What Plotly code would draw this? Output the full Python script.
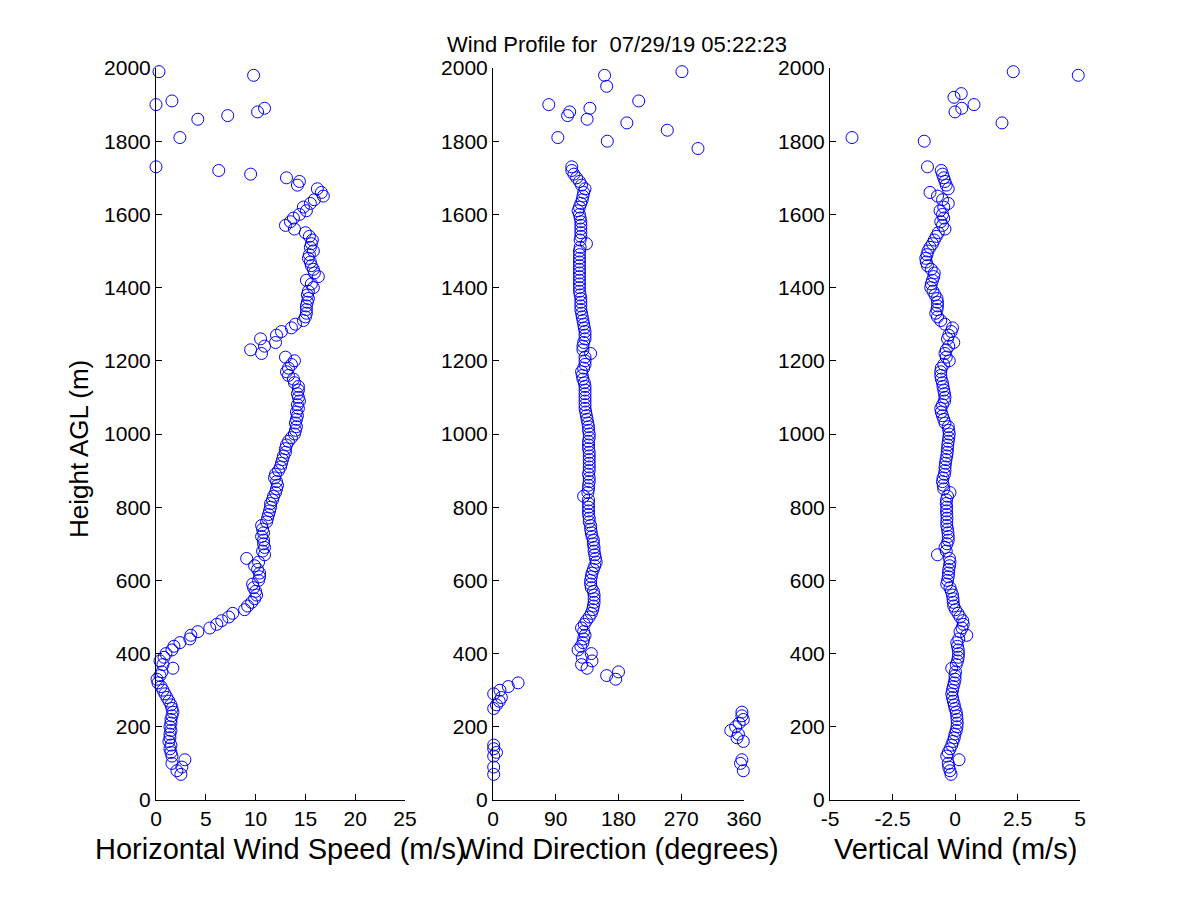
import plotly.graph_objects as go

# range gates (m AGL) of the main profile
heights = [
    70, 80, 90, 100, 110, 120, 130, 140, 150, 160,
    170, 180, 190, 200, 210, 220, 230, 240, 250, 260,
    270, 280, 290, 300, 310, 320, 330, 340, 350, 360,
    370, 380, 390, 400, 410, 420, 430, 440, 450, 460,
    470, 480, 490, 500, 510, 520, 530, 540, 550, 560,
    570, 580, 590, 600, 610, 620, 630, 640, 650, 660,
    670, 680, 690, 700, 710, 720, 730, 740, 750, 760,
    770, 780, 790, 800, 810, 820, 830, 840, 850, 860,
    870, 880, 890, 900, 910, 920, 930, 940, 950, 960,
    970, 980, 990, 1000, 1010, 1020, 1030, 1040, 1050, 1060,
    1070, 1080, 1090, 1100, 1110, 1120, 1130, 1140, 1150, 1160,
    1170, 1180, 1190, 1200, 1210, 1220, 1230, 1240, 1250, 1260,
    1270, 1280, 1290, 1300, 1310, 1320, 1330, 1340, 1350, 1360,
    1370, 1380, 1390, 1400, 1410, 1420, 1430, 1440, 1450, 1460,
    1470, 1480, 1490, 1500, 1510, 1520, 1530, 1540, 1550, 1560,
    1570, 1580, 1590, 1600, 1610, 1620, 1630, 1640, 1650, 1660,
    1670, 1680, 1690, 1700, 1710, 1720, 1730,
]

speed = [
    2.5, 2.1, 2.6, 1.6, 2.9, 1.6, 1.5, 1.4, 1.5, 1.3,
    1.4, 1.4, 1.5, 1.4, 1.5, 1.5, 1.6, 1.7, 1.6, 1.5,
    1.3, 1.1, 0.9, 0.7, 0.5, 0.2, 0.1, 0.4, 0.6, 1.7,
    0.7, 0.4, 0.8, 1.0, 1.6, 1.8, 2.4, 3.4, 3.5, 4.2,
    5.4, 6.1, 6.6, 7.3, 7.7, 8.9, 9.2, 9.6, 9.9, 10.1,
    10.0, 9.8, 9.7, 10.3, 10.4, 10.4, 10.2, 9.9, 10.3, 9.1,
    10.9, 10.7, 10.9, 10.8, 10.8, 10.6, 10.8, 10.7, 10.6, 11.1,
    11.2, 11.3, 11.4, 11.5, 11.5, 11.7, 11.8, 12.0, 12.1, 12.2,
    12.1, 11.9, 12.0, 12.3, 12.5, 12.6, 12.7, 12.8, 13.0, 13.0,
    13.1, 13.3, 13.6, 13.9, 14.0, 14.1, 14.0, 14.1, 14.2, 14.1,
    14.3, 14.2, 14.4, 14.3, 14.2, 14.3, 14.3, 13.9, 13.8, 13.3,
    13.1, 13.3, 13.6, 13.9, 13.0, 10.6, 9.5, 10.9, 12.0, 10.5,
    12.1, 12.6, 13.6, 14.0, 14.8, 15.0, 15.1, 15.1, 15.1, 15.2,
    15.3, 15.2, 15.3, 15.8, 15.6, 15.1, 16.3, 15.9, 15.8, 15.6,
    15.5, 15.3, 15.4, 15.8, 15.5, 15.6, 15.7, 15.4, 15.0, 13.9,
    13.0, 13.5, 13.8, 14.4, 15.1, 14.8, 15.5, 15.9, 16.8, 16.6,
    16.2, 14.2, 14.4, 13.1, 9.5, 6.3, 0.0,
]

direction = [
    1, 359, 1, 355, 357, 1, 5, 1, 1, 359,
    350, 352, 341, 348, 353, 359, 357, 357, 1, 5,
    9, 12, 1, 10, 22, 36, 176, 163, 180, 135,
    127, 142, 128, 141, 122, 126, 129, 130, 132, 130,
    127, 131, 134, 138, 141, 143, 144, 145, 145, 145,
    144, 141, 140, 140, 141, 142, 144, 146, 148, 147,
    146, 145, 145, 144, 144, 142, 141, 140, 140, 138,
    138, 137, 137, 137, 137, 137, 130, 136, 137, 137,
    138, 138, 137, 138, 138, 138, 138, 138, 138, 137,
    137, 137, 138, 138, 137, 137, 136, 135, 134, 133,
    132, 132, 132, 132, 132, 132, 132, 131, 129, 128,
    127, 130, 132, 132, 132, 140, 129, 129, 130, 132,
    132, 132, 131, 130, 129, 128, 127, 126, 126, 126,
    126, 125, 124, 124, 124, 124, 124, 124, 124, 124,
    124, 124, 124, 124, 125, 134, 125, 126, 126, 126,
    126, 126, 125, 124, 122, 124, 126, 128, 129, 130,
    132, 127, 124, 120, 116, 113, 113,
]

vertical = [
    -0.16, -0.2, -0.25, -0.27, 0.16, -0.33, -0.27, -0.2, -0.13, -0.08,
    -0.03, 0.0, 0.05, 0.08, 0.09, 0.08, 0.07, 0.05, 0.0, -0.03,
    -0.07, -0.1, -0.13, -0.1, -0.07, -0.03, 0.0, 0.0, 0.02, -0.13,
    0.05, 0.1, 0.13, 0.14, 0.13, 0.1, 0.07, 0.15, 0.47, 0.2,
    0.28, 0.33, 0.31, 0.2, 0.12, 0.02, -0.05, -0.07, -0.08, -0.1,
    -0.15, -0.2, -0.33, -0.3, -0.27, -0.26, -0.25, -0.22, -0.2, -0.22,
    -0.7, -0.35, -0.4, -0.32, -0.27, -0.27, -0.28, -0.3, -0.33, -0.33,
    -0.32, -0.33, -0.34, -0.33, -0.35, -0.34, -0.3, -0.2, -0.45, -0.47,
    -0.5, -0.48, -0.42, -0.4, -0.4, -0.38, -0.36, -0.33, -0.31, -0.3,
    -0.29, -0.27, -0.25, -0.23, -0.25, -0.27, -0.4, -0.45, -0.5, -0.55,
    -0.57, -0.5, -0.42, -0.4, -0.42, -0.45, -0.48, -0.5, -0.55, -0.57,
    -0.57, -0.55, -0.45, -0.23, -0.35, -0.4, -0.35, -0.25, -0.05, -0.3,
    -0.25, -0.15, -0.1, -0.4, -0.57, -0.7, -0.77, -0.72, -0.7, -0.7,
    -0.72, -0.8, -0.88, -0.97, -0.95, -0.9, -0.85, -0.83, -0.95, -1.1,
    -1.15, -1.17, -1.12, -1.08, -1.0, -0.9, -0.83, -0.75, -0.67, -0.4,
    -0.5, -0.57, -0.45, -0.5, -0.6, -0.45, -0.27, -0.5, -0.7, -1.0,
    -0.27, -0.35, -0.4, -0.45, -0.5, -0.55, -1.1,
]

# scattered returns above the main profile
speed_hi_heights = [1810, 1860, 1870, 1880, 1890, 1900, 1910, 1980, 1990]
speed_hi = [2.4, 4.2, 7.2, 10.2, 10.9, 0.0, 1.6, 9.8, 0.3]

dir_hi_heights = [1780, 1800, 1810, 1830, 1850, 1860, 1870, 1880, 1890, 1900, 1910, 1950, 1980, 1990]
dir_hi = [294, 164, 93, 250, 192, 135, 107, 110, 139, 80, 209, 163, 160, 271]

vert_hi_heights = [1800, 1810, 1850, 1880, 1890, 1900, 1920, 1930, 1980, 1990]
vert_hi = [-1.23, -4.12, 1.88, 0.0, 0.27, 0.76, -0.04, 0.25, 4.93, 2.33]

title_text = "Wind Profile for  07/29/19 05:22:23"
x_labels = ["Horizontal Wind Speed (m/s)", "Wind Direction (degrees)", "Vertical Wind (m/s)"]
y_label = "Height AGL (m)"

FONT = "Liberation Sans"
W, H = 1200, 900
OFF = 8  # the page body margin shifts the figure by this many pixels


def px(x):
    return (x - OFF) / W


def py(y):
    return 1 - (y - OFF) / H


marker = dict(symbol="circle-open", size=12, color="#0000ff", line=dict(width=1, color="#0000ff"))

fig = go.Figure()
panels = [
    ("x", "y", speed + speed_hi, heights + speed_hi_heights),
    ("x2", "y2", direction + dir_hi, heights + dir_hi_heights),
    ("x3", "y3", vertical + vert_hi, heights + vert_hi_heights),
]
for xa, ya, xs, ys in panels:
    fig.add_trace(go.Scatter(x=xs, y=ys, mode="markers", marker=marker,
                             xaxis=xa, yaxis=ya, cliponaxis=False, showlegend=False))

axis_style = dict(showline=True, linecolor="black", linewidth=1, mirror=False,
                  ticks="inside", ticklen=6, tickcolor="black", showgrid=False,
                  zeroline=False, automargin=False,
                  tickfont=dict(family=FONT, size=21, color="black"))

y_dom = [py(800), py(68)]
x_domains = [[px(156), px(405)], [px(493), px(744)], [px(830), px(1080)]]

fig.update_layout(
    width=W, height=H,
    margin=dict(l=0, r=0, t=0, b=0, autoexpand=False),
    paper_bgcolor="white", plot_bgcolor="white",
    xaxis=dict(domain=x_domains[0], range=[0, 25], tickvals=[0, 5, 10, 15, 20, 25], anchor="y", **axis_style),
    xaxis2=dict(domain=x_domains[1], range=[0, 360], tickvals=[0, 90, 180, 270, 360], anchor="y2", **axis_style),
    xaxis3=dict(domain=x_domains[2], range=[-5, 5], tickvals=[-5, -2.5, 0, 2.5, 5],
                ticktext=["-5", "-2.5", "0", "2.5", "5"], anchor="y3", **axis_style),
    yaxis=dict(domain=y_dom, range=[0, 2000], dtick=200, anchor="x", **axis_style),
    yaxis2=dict(domain=y_dom, range=[0, 2000], dtick=200, anchor="x2", **axis_style),
    yaxis3=dict(domain=y_dom, range=[0, 2000], dtick=200, anchor="x3", **axis_style),
)

annotations = [
    dict(text=title_text, x=px(617), y=py(44), font=dict(size=22)),
    dict(text=y_label, x=px(79), y=py(449), textangle=-90, font=dict(size=26)),
]
for (d0, d1), label in zip(x_domains, x_labels):
    annotations.append(dict(text=label, x=(d0 + d1) / 2, y=py(849), font=dict(size=29)))
for a in annotations:
    a.update(xref="paper", yref="paper", showarrow=False, xanchor="center", yanchor="middle")
    a["font"].update(family=FONT, color="black")
fig.update_layout(annotations=annotations)

fig.write_html("out.html")
